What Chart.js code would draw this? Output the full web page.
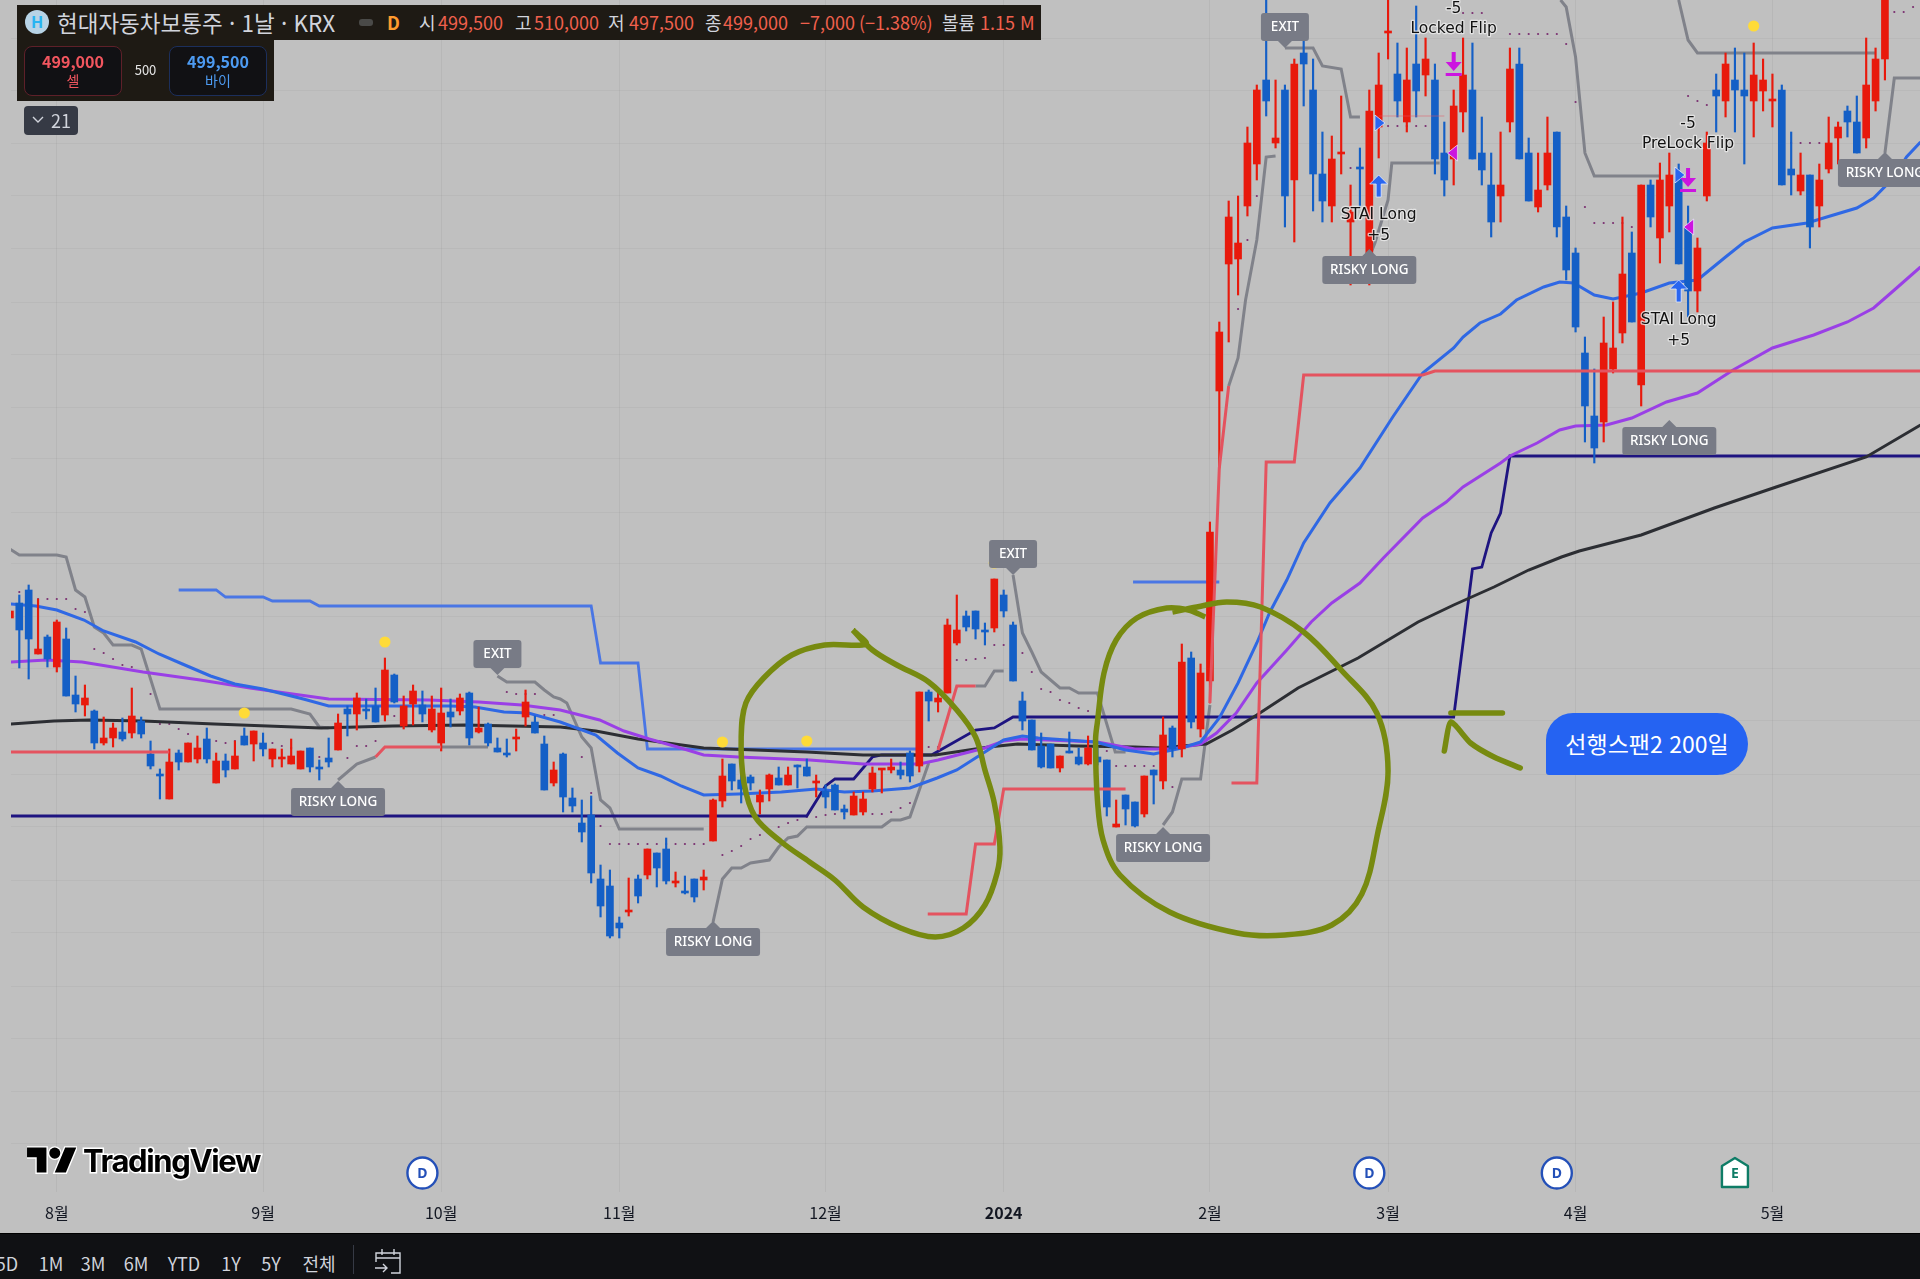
<!DOCTYPE html>
<html lang="ko">
<head>
<meta charset="utf-8">
<title>현대자동차보통주</title>
<script src="https://cdn.jsdelivr.net/npm/chart.js@4"></script>
<style>
  html, body { margin: 0; padding: 0; background: #c0c0c0; overflow: hidden; }
  #wrap { position: relative; width: 1920px; height: 1279px; font-family: "Noto Sans CJK KR", "Noto Sans", sans-serif; }
  canvas { position: absolute; left: 0; top: 0; }
  .t { position: absolute; white-space: nowrap; line-height: 1; }
  .up { color: #f0604d; }
  .lab { color: #d1d4dc; }
  .range { position: absolute; top: 1253px; font-size: 18px; color: #d1d4dc; transform: translateX(-50%); line-height: 20px; }
</style>
</head>
<body>
<div id="wrap">
  <canvas id="chart" width="1920" height="1279"></canvas>

  <!-- header -->
  <div style="position:absolute;left:17px;top:5px;width:1024px;height:35px;background:#1e1a14"></div>
  <div style="position:absolute;left:17px;top:40px;width:257px;height:61px;background:#1e1a14"></div>
  <div style="position:absolute;left:25px;top:10px;width:24px;height:24px;border-radius:50%;background:#b7d3e6;color:#27b4f2;font:700 16px/24px 'Noto Sans';text-align:center">H</div>
  <div class="t lab" style="left:57px;top:11px;font-size:22.5px">현대자동차보통주 · 1날 · KRX</div>
  <div style="position:absolute;left:359px;top:19px;width:14px;height:7px;border-radius:3px;background:#4a4a48"></div>
  <div class="t" style="left:387px;top:13px;font-size:18px;font-weight:700;color:#ff9b2e">D</div>
  <div class="t lab" style="left:419px;top:13px;font-size:18px">시</div>
  <div class="t up" style="left:438px;top:13px;font-size:18px">499,500</div>
  <div class="t lab" style="left:515px;top:13px;font-size:18px">고</div>
  <div class="t up" style="left:534px;top:13px;font-size:18px">510,000</div>
  <div class="t lab" style="left:608px;top:13px;font-size:18px">저</div>
  <div class="t up" style="left:629px;top:13px;font-size:18px">497,500</div>
  <div class="t lab" style="left:705px;top:13px;font-size:18px">종</div>
  <div class="t up" style="left:723px;top:13px;font-size:18px">499,000</div>
  <div class="t up" style="left:800px;top:13px;font-size:18px">−7,000 (−1.38%)</div>
  <div class="t lab" style="left:942px;top:13px;font-size:18px">볼륨</div>
  <div class="t up" style="left:980px;top:13px;font-size:18px">1.15 M</div>

  <div style="position:absolute;left:24px;top:46px;width:96px;height:48px;border:1px solid #5e2029;border-radius:8px;background:#111114"></div>
  <div class="t" style="left:24px;width:98px;text-align:center;top:53px;font-size:16px;font-weight:700;color:#f2565f">499,000</div>
  <div class="t" style="left:24px;width:98px;text-align:center;top:73px;font-size:14px;color:#f2565f">셀</div>
  <div class="t" style="left:122px;width:47px;text-align:center;top:63px;font-size:13px;color:#e4e4e4">500</div>
  <div style="position:absolute;left:169px;top:46px;width:96px;height:48px;border:1px solid #1c2f5c;border-radius:8px;background:#111114"></div>
  <div class="t" style="left:169px;width:98px;text-align:center;top:53px;font-size:16px;font-weight:700;color:#4d9bf2">499,500</div>
  <div class="t" style="left:169px;width:98px;text-align:center;top:73px;font-size:14px;color:#4d9bf2">바이</div>

  <div style="position:absolute;left:24px;top:106px;width:54px;height:29px;background:#363a45;border-radius:4px"></div>
  <svg style="position:absolute;left:32px;top:116px" width="12" height="8"><path d="M1 1l5 5 5-5" fill="none" stroke="#d1d4dc" stroke-width="1.4"/></svg>
  <div class="t lab" style="left:51px;top:111px;font-size:18px">21</div>

  <!-- note pill -->
  <div style="position:absolute;left:1546px;top:713px;width:202px;height:62px;background:#2563f2;border-radius:27px 31px 31px 3px;color:#fff;font-size:23px;line-height:60px;text-align:center">선행스팬2 200일</div>

  <!-- logo -->
  <svg style="position:absolute;left:27px;top:1142px" width="50" height="38" viewBox="0 0 36 27.4">
    <path d="M14 22H7V11H0V4h14v18zM28 22h-8l7.5-18h8L28 22z" fill="#000" stroke="#fff" stroke-width="2" paint-order="stroke"/>
    <circle cx="20" cy="8" r="4" fill="#000" stroke="#fff" stroke-width="2" paint-order="stroke"/>
  </svg>
  <div class="t" style="left:83px;top:1144px;font:700 31px/34px Inter;letter-spacing:-1.35px;color:#000;-webkit-text-stroke:3px #fff;paint-order:stroke fill">TradingView</div>

  <!-- bottom bar -->
  <div style="position:absolute;left:0;top:1233px;width:1920px;height:46px;background:#101114;border-top:1px solid #000;box-sizing:border-box"></div>
  <div class="range" style="left:7px">5D</div>
  <div class="range" style="left:51px">1M</div>
  <div class="range" style="left:93px">3M</div>
  <div class="range" style="left:136px">6M</div>
  <div class="range" style="left:184px">YTD</div>
  <div class="range" style="left:231px">1Y</div>
  <div class="range" style="left:271px">5Y</div>
  <div class="range" style="left:319px">전체</div>
  <div style="position:absolute;left:353px;top:1245px;width:1px;height:29px;background:#363a45"></div>
  <svg style="position:absolute;left:373px;top:1247px" width="30" height="30" fill="none" stroke="#d1d4dc" stroke-width="1.4">
    <path d="M3 15V6h24v20h-9M3 11h24M9 2v6M21 2v6M2 21h12M10 17l4 4-4 4"/>
  </svg>
</div>

<script>
// candles, first one is bar -1 (partly cut off on the left)
const opens = [
  574,589,602,538,555,525,553,497,487,481,
  449,454,460,459,471,438,417,393,439,430,
  433,453,409,431,423,456,448,449,433,433,
  428,423,444,425,434,442,483,478,483,486,
  477,517,466,488,487,462,449,480,481,499,
  460,468,444,438,453,475,470,448,409,438,
  394,369,377,313,306,269,280,313,317,339,
  343,309,301,313,312,351,391,428,412,415,
  390,403,414,407,427,425,409,401,407,383,
  377,380,403,422,422,422,439,426,500,490,
  499,549,576,581,562,564,597,567,491,472,
  446,448,424,441,435,428,435,432,365,397,
  390,378,422,411,464,443,534,463,511,801,
  928,933,986,1028,1112,1049,1102,1012,1139,1102,
  1018,986,1038,970,1025,933,1065,1159,1118,1070,
  1128,1117,1112,1039,1033,1080,1102,1039,1007,996,
  1070,1128,1039,985,1007,1060,975,939,839,776,
  770,823,859,939,807,1007,954,986,1015,965,
  901,996,1102,1091,1112,1102,1091,1101,1091,1102,
  1023,1001,1017,986,1023,1054,1081,1070,1054,1091,1133
];
const closes = [
  581,562,553,543,533,570,496,488,494,449,
  454,464,453,476,458,426,416,430,430,449,
  444,433,431,422,436,447,461,443,443,435,
  436,441,425,423,430,469,478,494,481,470,
  522,490,486,501,478,483,479,475,494,454,
  464,449,440,437,455,490,459,402,422,395,
  386,360,319,286,256,264,281,296,343,324,
  311,310,299,295,315,392,416,411,403,409,
  397,417,407,417,425,416,411,395,382,380,
  396,393,419,423,425,417,416,500,491,494,
  567,562,565,563,560,613,581,511,471,442,
  425,424,436,439,428,444,430,385,368,383,
  366,416,417,457,443,530,470,519,660,860,
  975,949,1049,1102,1091,1054,996,1128,1128,1018,
  991,1033,1039,980,1023,1081,1107,1160,1091,1112,
  1101,1133,1033,1012,1086,1117,1033,1022,970,1007,
  1123,1033,991,1002,1039,965,922,865,786,744,
  849,844,918,870,1007,975,1012,1017,928,901,
  944,1049,1096,1128,1102,1096,1117,1112,1092,1007,
  1017,1017,965,1012,1049,1065,1070,1039,1107,1133,1202
];
const highs = [
  581,597,607,593,557,572,564,516,507,482,
  475,469,474,504,475,451,423,443,442,449,
  456,464,439,438,451,464,461,459,443,443,
  453,441,444,432,454,478,486,499,493,504,
  534,518,496,507,501,496,504,493,498,500,
  485,469,454,453,463,502,476,456,430,439,
  404,392,396,327,322,275,314,317,343,339,
  354,320,316,313,322,393,433,428,419,417,
  402,418,425,425,427,433,417,407,408,387,
  400,400,425,423,433,430,441,500,502,499,
  573,597,581,581,569,613,602,570,500,472,
  459,448,436,460,444,456,445,432,392,397,
  390,416,422,475,466,548,540,528,670,870,
  991,996,1065,1107,1200,1112,1107,1133,1175,1133,
  1060,1056,1096,1007,1044,1102,1139,1200,1149,1144,
  1186,1154,1128,1070,1102,1154,1149,1075,1039,1060,
  1144,1144,1054,1039,1075,1060,986,944,855,823,
  875,890,975,960,1007,1012,1029,1039,1028,986,
  954,1060,1118,1139,1144,1139,1149,1133,1118,1107,
  1060,1039,1017,1028,1075,1070,1086,1096,1154,1144,1202
];
const lows = [
  574,524,513,538,525,520,496,480,476,443,
  447,445,451,454,454,423,393,393,422,430,
  429,429,409,415,423,447,431,436,425,425,
  428,423,420,412,425,442,456,462,473,470,
  471,489,463,467,470,460,441,465,477,447,
  459,446,440,435,441,466,459,402,406,380,
  380,350,309,275,254,254,276,289,313,305,
  308,305,298,290,302,351,385,402,389,402,
  378,391,407,407,404,416,395,384,382,373,
  377,377,400,399,419,413,410,420,471,480,
  499,547,561,553,547,560,575,511,462,442,
  424,424,420,439,427,427,427,376,365,367,
  365,375,388,403,435,435,464,455,489,724,
  850,897,976,1012,1076,1044,965,950,1086,981,
  970,970,1018,907,985,907,1034,1133,1075,1060,
  1075,1096,1018,996,1007,1060,1033,1007,955,970,
  1060,1033,991,980,1002,955,912,860,750,729,
  750,819,849,870,786,965,929,960,928,875,
  880,991,1060,1075,1060,1028,1055,1081,1065,1007,
  997,997,944,965,1019,1028,1055,1039,1044,1081,1112
];

// x axis
const monthBars = [4, 26, 45, 64, 86, 105, 127, 146, 166, 187];
const monthLabels = ["8월", "9월", "10월", "11월", "12월", "2024", "2월", "3월", "4월", "5월"];
const priceGrid = [49,101,154,206,259,312,365,417,471,524,575,629,680,734,785,838,890,944,997,1049,1102,1154];

// moving averages, read at the listed bars
const blueMaBars = [-1,1.75,4,6.9,9,12.4,14.9,17.4,20.4,23,26,30.3,33,35.3,46,48.6,51.7,54.3,57.7,61.5,63.8,66,68.4,70.6,73,76.7,81.3,85,88,91,95,97.9,100,103,105,107,108.7,114.8,118,121,124,126,128,130,132,133.4,135.2,137,139.8,143,146.5,149.7,153,154,155.8,158,159.7,162.6,164.3,165.8,168,170,173,176,179,182,184,187,190.7,192.8,196,197.8,200,201.3,202.8];
const blueMaVals = [588,586,582,572,561,550,538,528,516,508,503,493,486,486,486,485,480,479,470,457,439,424,416,406,397,398,400,403,400,401,404,414,422,440,452,456,454,450,442,438,444,450,474,509,549,580,612,649,689,724,775,819,844,855,869,878,892,905,910,909,897,893,899,909,912,935,950,964,969,975,984,994,1015,1035,1050];
const purpleMaBars = [-1,2.9,6.7,13.2,19.3,24.6,28.4,33,43.7,49,53.6,57.7,61.9,64.5,67.2,70.2,73,76.7,84.3,90,96,98,103,105,107,115,119,123,126,127.7,129.8,132,135.2,137.8,140,143,145.5,149.7,152.2,154,158,159,161.9,164.3,166,169.3,172,175.7,179,182.8,187,191.4,195,197.8,200,202.8];
const purpleMaVals = [530,532,530,520,512,504,499,493,492,490,487,482,472,461,453,445,437,435,432,428,428,432,444,451,453,450,443,443,448,459,479,509,542,570,589,609,634,674,690,705,729,736,749,762,766,767,774,790,799,822,844,857,870,884,902,925];
const blackMaBars = [-1,3.7,7.5,13.2,20.8,32.2,39.8,47.5,57.7,61.5,66,73,84,90,97.7,103.4,106.5,112.9,119,121.5,126.6,129.4,132,136.4,142.8,149.2,153,157.3,161,164.5,166.4,173,180.8,187.4,197,202.8];
const blackMaVals = [468,471,472,471,468,464,466,467,465,461,453,444,440,437,437,445,448,446,445,444,448,462,477,504,534,570,587,605,622,635,641,657,684,705,735,767];

// span line
const spanBars = [-1,84,86,87,89,91,92,97.3,102,104,106,153,155,156,157,158,159,202.8];
const spanVals = [376,376,406,413,413,435,437,437,462,464,475,475,623,625,659,679,736,736];

// stop lines, a null is a gap
const grayBars = [-1,0,4,5,6,7,8,9,10,12,13,15,29,31,32,33,33.5, 34,36,38,38.5, 45,50,50.5, 51,52,55,56,57,57.7,58.4,60,61,62,63,64,73,73.5, 74,75,76,77,78,80,81,82,83,84,92,93,94,95,97,97.5, 102,103,104,105,105.5, 106,107,108,109,111,112,113,115,116.9,118,118.5, 122,123,124,126,127,128, 129,130,130.8,131.2,132,133,134,134.5, 135,138,139,141,142,143,143.5, 144,144.6,146,146.4,151.5,152, 164.4,165,166,167,168,175,175.5, 177,178,179,198,198.5, 199,200,202.8];
const grayVals = [643,637,637,635,602,595,565,559,547,547,543,483,483,478,465,464,null, 412,428,435,null, 445,445,null, 516,510,510,502,495,493,489,455,444,392,384,363,363,null, 270,313,324,324,329,332,345,354,356,365,365,372,372,375,429,null, 506,506,521,521,null, 617,559,540,520,504,504,499,499,440,440,null, 367,380,413,413,487,null, 806,834,892,912,952,1035,1036,null, 1144,1144,1126,1123,1075,1075,null, 935,949,992,1029,1029,null, 1192,1185,1135,1039,1016,1016,null, 1192,1152,1139,1139,null, 1039,1114,1114];
const redBars = [-1,16,16.5, 38,39,45,45.5, 96.9,101,102,104,105,118,118.5, 98,100,102,102.5, 127,128,129,129.5, 129.3,132,133,136,137,149.7,151,202.8];
const redVals = [440,440,null, 435,445,445,null, 278,278,348,348,403,403,null, 442,506,506,null, 489,724,806,null, 409,409,730,730,817,817,821,821];
const stepBlueBars = [17,21,22,26,27,31,32,61,62,66,67,96,96.5, 118.8,128];
const stepBlueVals = [602,602,595,595,591,591,586,586,529,529,443,443,null, 610,610];
// faint red line near the Locked Flip note
const faintRedBars = [145, 152];
const faintRedVals = [1076, 1076];

// small dots along the trail
const dotBars = [0,2,3,4,5,6,7,8,9,10,11,12,13,14,15,16,17,18,21,22,23,27,28,29,32,35,36,37,38,40,42,52,53,54,55,56,57,60,61,62,63,64,65,66,67,68,69,70,71,72,73,75,76,77,78,79,81,82,83,84,85,86,87,88,89,90,91,92,93,94,95,97,98,100,101,102,103,104,105,107,108,109,110,111,112,113,114,116,117,118,119,120,121,123,130,131,132,142,143,146,147,148,149,150,154,155,156,159,160,161,162,163,164,165,166,167,168,169,170,171,172,178,179,180,189,190,191,192,200,201,202];
const dotVals = [600,593,593,593,593,583,580,543,539,533,527,525,520,498,468,468,463,458,451,449,451,449,446,444,435,434,446,446,451,476,476,500,498,498,498,477,477,435,399,366,348,348,348,348,348,348,348,348,348,348,348,337,341,346,353,357,365,369,372,375,375,377,378,378,378,378,378,378,380,384,389,445,445,532,532,533,534,547,547,539,520,503,500,492,489,484,481,441,426,426,426,426,426,405,883,952,996,1024,1024,1066,1066,1066,1066,1066,1179,1179,1179,1158,1158,1158,1158,1158,1158,1148,1090,985,969,969,969,969,965,1096,1091,1087,1049,1049,1049,1049,1180,1180,1185];
const yellowBars = [24,39,75,84,104,185];
const yellowVals = [479,550,450,451,629,1166];

// hand drawn marks
const circleABars = [88.9,90.3,85.9,82.4,79.4,77.5,77,77.3,78.5,81.3,84.3,87,90,94,97.7,100.7,103,104.3,104.6,104,103,102,100,97,93.6,91,88.9];
const circleAVals = [562,548,547,537,514,489,455,409,375,350,330,312,285,264,255,264,287,319,345,389,422,455,482,510,527,542,562];
const circleBBars = [126.5,124.7,122.4,119.2,117,115.7,115,114.8,115,115.6,117.4,122.7,129.9,135,140,143.2,144.9,146,144.8,141,137,132.4,128.8,125.6,123];
const circleBVals = [575,582,584,574,552,519,470,452,392,352,317,280,259,257,267,298,359,421,479,522,560,585,590,585,580];
const arrowBars = [158.2,152.7,152.7,152,152.7,154.8,157.3,160.1];
const arrowVals = [479,479,null,441,470,449,435,424];

// labels
const riskyBars = [34, 74, 122, 144, 176, 199];
const riskyVals = [390, 250, 344, 922, 751, 1019];
const exitBars = [51, 106, 135];
const exitVals = [538, 638, 1165];
const noteBars = [145, 145, 153, 153, 177, 177, 178, 178];
const noteVals = [977, 956, 1183, 1163, 872, 851, 1068, 1048];
const noteTexts = ["STAI Long", "+5", "-5", "Locked Flip", "STAI Long", "+5", "-5", "PreLock Flip"];
const eventBars = [43, 144, 164, 183];
const eventTexts = ["D", "D", "D", "E"];
// signal markers
const upBars = [145, 177];
const upVals = [1017, 912];
const downBars = [153, 178];
const downVals = [1140, 1024];
const rightBars = [144.6, 176.6];
const rightVals = [1069, 1017];
const leftBars = [153.4, 178.6];
const leftVals = [1039, 965];

const candleBars = opens.map((_, i) => i - 1);
const candleColors = opens.map((o, i) => closes[i] >= o ? "#e8190c" : "#145fc6");

function pts(xs, ys) {
  return xs.map((x, i) => ({ x: x, y: ys[i] }));
}

function lineSet(xs, ys, color, width, order, extra) {
  return Object.assign({
    type: "line",
    data: pts(xs, ys),
    borderColor: color,
    borderWidth: width,
    pointRadius: 0,
    tension: 0,
    spanGaps: false,
    order: order
  }, extra || {});
}

function roundBox(ctx, x, y, w, h, r) {
  ctx.beginPath();
  ctx.roundRect(x, y, w, h, r);
  ctx.fill();
}

// grey RISKY LONG / EXIT tags, notes, arrows and event bubbles
const overlayPlugin = {
  id: "overlay",
  afterDatasetsDraw(chart) {
    const ctx = chart.ctx;
    const xs = chart.scales.x;
    const ys = chart.scales.y;
    ctx.save();
    ctx.textAlign = "center";
    ctx.textBaseline = "middle";

    // tags
    ctx.font = "500 13.5px 'Noto Sans'";
    riskyBars.forEach((b, i) => {
      const x = xs.getPixelForValue(b), y = ys.getPixelForValue(riskyVals[i]);
      ctx.fillStyle = "#787b86";
      roundBox(ctx, x - 47, y - 14, 94, 28, 3);
      ctx.beginPath();
      ctx.moveTo(x - 8, y - 13); ctx.lineTo(x, y - 21); ctx.lineTo(x + 8, y - 13);
      ctx.fill();
      ctx.fillStyle = "#fff";
      ctx.fillText("RISKY LONG", x, y);
    });
    exitBars.forEach((b, i) => {
      const x = xs.getPixelForValue(b), y = ys.getPixelForValue(exitVals[i]);
      ctx.fillStyle = "#787b86";
      roundBox(ctx, x - 24, y - 14, 48, 28, 3);
      ctx.beginPath();
      ctx.moveTo(x - 8, y + 13); ctx.lineTo(x, y + 21); ctx.lineTo(x + 8, y + 13);
      ctx.fill();
      ctx.fillStyle = "#fff";
      ctx.fillText("EXIT", x, y);
    });

    // up arrows
    ctx.lineJoin = "miter";
    ctx.strokeStyle = "rgba(235,240,255,.75)";
    ctx.lineWidth = 1;
    ctx.fillStyle = "#2a66f0";
    upBars.forEach((b, i) => {
      const x = xs.getPixelForValue(b), y = ys.getPixelForValue(upVals[i]);
      ctx.beginPath();
      ctx.moveTo(x, y); ctx.lineTo(x + 9, y + 9); ctx.lineTo(x + 2.5, y + 9); ctx.lineTo(x + 2.5, y + 22);
      ctx.lineTo(x - 2.5, y + 22); ctx.lineTo(x - 2.5, y + 9); ctx.lineTo(x - 9, y + 9);
      ctx.closePath();
      ctx.fill();
      ctx.stroke();
    });
    rightBars.forEach((b, i) => {
      const x = xs.getPixelForValue(b), y = ys.getPixelForValue(rightVals[i]);
      ctx.beginPath();
      ctx.moveTo(x, y - 8); ctx.lineTo(x + 10, y); ctx.lineTo(x, y + 8);
      ctx.closePath();
      ctx.fill();
      ctx.stroke();
    });

    // down arrows with a bar under them
    ctx.fillStyle = "#cc14e0";
    downBars.forEach((b, i) => {
      const x = xs.getPixelForValue(b), y = ys.getPixelForValue(downVals[i]);
      ctx.beginPath();
      ctx.moveTo(x, y + 19); ctx.lineTo(x + 8, y + 10); ctx.lineTo(x + 2, y + 10); ctx.lineTo(x + 2, y);
      ctx.lineTo(x - 2, y); ctx.lineTo(x - 2, y + 10); ctx.lineTo(x - 8, y + 10);
      ctx.closePath();
      ctx.fill();
      ctx.fillRect(x - 8, y + 21, 16, 3);
    });
    leftBars.forEach((b, i) => {
      const x = xs.getPixelForValue(b), y = ys.getPixelForValue(leftVals[i]);
      ctx.beginPath();
      ctx.moveTo(x, y - 8); ctx.lineTo(x - 10, y); ctx.lineTo(x, y + 8);
      ctx.closePath();
      ctx.fill();
      ctx.stroke();
    });

    // notes
    ctx.font = "15.5px 'DejaVu Sans'";
    ctx.lineJoin = "round";
    noteBars.forEach((b, i) => {
      const x = xs.getPixelForValue(b), y = ys.getPixelForValue(noteVals[i]);
      ctx.lineWidth = 2.5;
      ctx.strokeStyle = "rgba(235,235,235,.8)";
      ctx.strokeText(noteTexts[i], x, y);
      ctx.fillStyle = "#111";
      ctx.fillText(noteTexts[i], x, y);
    });

    // event bubbles on the time axis
    const bubbleY = ys.getPixelForValue(19);
    eventBars.forEach((b, i) => {
      const x = xs.getPixelForValue(b);
      const color = eventTexts[i] === "E" ? "#0e7c66" : "#2450b8";
      ctx.fillStyle = "#fff";
      ctx.strokeStyle = color;
      ctx.lineWidth = 2.4;
      ctx.beginPath();
      if (eventTexts[i] === "E") {
        ctx.moveTo(x, bubbleY - 15); ctx.lineTo(x + 13, bubbleY - 7); ctx.lineTo(x + 13, bubbleY + 14);
        ctx.lineTo(x - 13, bubbleY + 14); ctx.lineTo(x - 13, bubbleY - 7);
        ctx.closePath();
      } else {
        ctx.ellipse(x, bubbleY, 15, 15.5, 0, 0, Math.PI * 2);
      }
      ctx.fill();
      ctx.stroke();
      ctx.fillStyle = color;
      ctx.font = "700 14px 'Noto Sans'";
      ctx.fillText(eventTexts[i], x, bubbleY + 1);
    });
    ctx.restore();
  }
};

new Chart(document.getElementById("chart"), {
  data: {
    datasets: [
      // wicks first, bodies over them
      {
        type: "bar",
        data: candleBars.map((x, i) => ({ x: x, y: [lows[i], highs[i]] })),
        backgroundColor: candleColors,
        barThickness: 1.5,
        grouped: false,
        order: 6
      },
      {
        type: "bar",
        data: candleBars.map((x, i) => ({ x: x, y: [Math.min(opens[i], closes[i]), Math.max(opens[i], closes[i])] })),
        backgroundColor: candleColors,
        barThickness: 7,
        minBarLength: 2,
        grouped: false,
        order: 5
      },
      lineSet(blackMaBars, blackMaVals, "#2c2e33", 3, 9),
      lineSet(purpleMaBars, purpleMaVals, "#9a3fe6", 3, 8),
      lineSet(blueMaBars, blueMaVals, "#2f68e4", 3, 7),
      lineSet(spanBars, spanVals, "#1e1480", 2.8, 10),
      lineSet(grayBars, grayVals, "#80828a", 3, 11),
      lineSet(redBars, redVals, "#e4535f", 3, 4),
      lineSet(faintRedBars, faintRedVals, "rgba(228,83,95,.5)", 1, 4),
      lineSet(stepBlueBars, stepBlueVals, "#4a76e4", 2.8, 12),
      {
        type: "scatter",
        data: pts(dotBars, dotVals),
        pointRadius: 1.1,
        pointBackgroundColor: "#7a2f70",
        pointBorderWidth: 0,
        order: 13
      },
      {
        type: "scatter",
        data: pts(yellowBars, yellowVals),
        pointRadius: 5.6,
        pointBackgroundColor: "#ffdb38",
        pointBorderWidth: 0,
        order: 3
      },
      lineSet(circleABars, circleAVals, "#778a10", 5.5, 2, { tension: 0.35 }),
      lineSet(circleBBars, circleBVals, "#778a10", 5.5, 2, { tension: 0.35 }),
      lineSet(arrowBars, arrowVals, "#778a10", 5.5, 2, { tension: 0.2, borderCapStyle: "round" })
    ]
  },
  options: {
    responsive: false,
    animation: false,
    devicePixelRatio: 1,
    layout: { autoPadding: false, padding: { left: 11, right: 0, top: 0, bottom: 0 } },
    plugins: { legend: { display: false }, tooltip: { enabled: false } },
    scales: {
      x: {
        type: "linear",
        min: -0.885,
        max: 202.74,
        offset: false,
        border: { display: false },
        grid: { color: "rgba(0,0,0,0.045)", drawTicks: false, offset: false },
        afterBuildTicks: axis => { axis.ticks = monthBars.map(v => ({ value: v })); },
        afterFit: axis => { axis.height = 87; },
        ticks: {
          autoSkip: false,
          maxRotation: 0,
          padding: 11,
          color: "#131722",
          font: ctx => ({
            family: "'Noto Sans CJK KR'",
            size: 16,
            weight: ctx.tick && ctx.tick.value === 105 ? "700" : "400"
          }),
          callback: v => monthLabels[monthBars.indexOf(v)]
        }
      },
      y: {
        type: "linear",
        min: 0,
        max: 1192,
        border: { display: false },
        grid: { color: "rgba(0,0,0,0.035)", drawTicks: false },
        afterBuildTicks: axis => { axis.ticks = priceGrid.map(v => ({ value: v })); },
        afterFit: axis => { axis.width = 0; },
        ticks: { display: false }
      }
    }
  },
  plugins: [overlayPlugin]
});
</script>
</body>
</html>
